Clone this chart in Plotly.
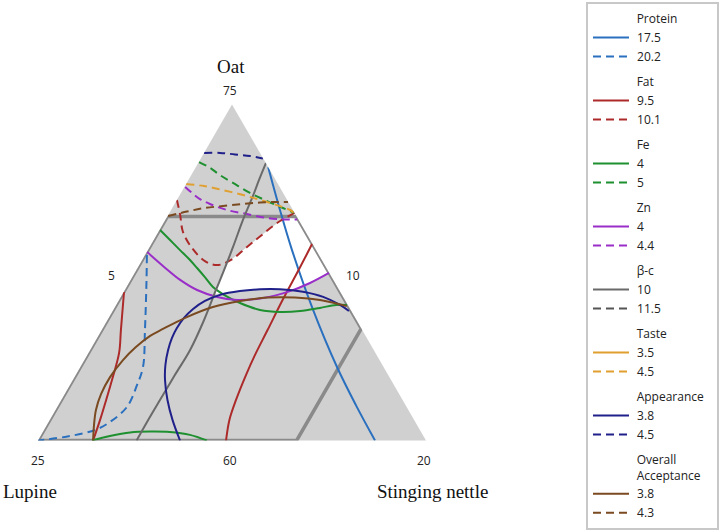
import plotly.graph_objects as go

# Mixture design: Oat + Lupine + Stinging nettle = 90 (%), lower bounds below
TOTAL = 90
OAT_MIN, LUP_MIN, NET_MIN = 60, 10, 5

# Vertex / edge labels shown on the simplex
vertex_labels = ["75", "25", "20"]      # Oat max, Lupine max, Nettle max
edge_labels = ["5", "10", "60"]         # Nettle min (left), Lupine min (right), Oat min (bottom)

# Constraint region (Oat <= 70, Nettle <= 15) as (Oat, Nettle) vertices
constraint_oat = [70, 70, 65, 60, 60, 70]
constraint_net = [5, 10, 15, 15, 5, 5]

# Feasible (white) overlap region, (Oat, Nettle)
feasible_oat = [68.01, 68.06, 68.64, 69.22, 69.80, 70.16, 67.48, 67.03, 66.67, 66.75, 66.75, 66.63, 66.54, 67.48, 68.01]
feasible_net = [8.34, 8.43, 8.76, 9.09, 9.46, 9.84, 12.51, 12.00, 11.41, 10.98, 10.09, 9.19, 8.57, 8.41, 8.34]

# Contour lines: Oat % and Stinging nettle % (Lupine = 90 - Oat - Nettle)
protein_175_oat = [72.2, 70.29, 68.50, 65.83, 63.28, 61.58, 60.0]
protein_175_net = [7.8, 9.21, 10.57, 12.72, 14.92, 16.50, 18.03]
protein_202_oat = [68.28, 67.17, 64.93, 63.28, 62.48, 61.50, 60.83, 60.47, 60.20, 60.0]
protein_202_net = [5.07, 5.61, 6.67, 7.42, 7.59, 7.69, 7.37, 6.97, 6.14, 5.0]

fat_95a_oat = [68.77, 67.61, 66.27, 64.93, 63.82, 62.92, 61.81, 60.92, 60.0]
fat_95a_net = [11.21, 11.27, 11.32, 11.41, 11.48, 11.58, 11.75, 11.94, 12.27]
fat_95b_oat = [66.63, 64.93, 63.91, 62.70, 61.81, 60.92, 60.0]
fat_95b_net = [5.01, 5.74, 6.18, 6.51, 6.73, 6.94, 7.13]
fat_101_oat = [70.74, 70.07, 69.31, 68.59, 68.01, 67.83, 68.06, 68.64, 69.22, 69.80, 70.16]
fat_101_net = [5.0, 5.46, 5.95, 6.66, 7.45, 8.00, 8.43, 8.76, 9.09, 9.46, 9.84]

fe_4a_oat = [69.40, 68.95, 68.50, 68.10, 67.70, 67.28, 66.85, 66.50, 66.14, 65.83, 65.74, 65.78, 65.92, 66.05, 66.05]
fe_4a_net = [5.02, 5.63, 6.24, 6.79, 7.30, 7.82, 8.34, 8.94, 9.74, 10.67, 11.49, 12.24, 12.94, 13.50, 13.92]
fe_4b_oat = [60.0, 60.20, 60.36, 60.40, 60.38, 60.25, 60.0]
fe_4b_net = [7.09, 7.68, 8.38, 9.13, 9.91, 10.75, 11.53]
fe_5_oat = [72.43, 72.17, 71.85, 71.50, 71.05, 70.69, 70.38, 70.16]
fe_5_net = [5.01, 5.57, 6.11, 6.79, 7.67, 8.51, 9.28, 9.82]

zn_4_oat = [68.42, 68.10, 67.75, 67.17, 66.72, 66.41, 66.27, 66.36, 66.67, 67.03, 67.48]
zn_4_net = [5.01, 5.47, 6.00, 6.91, 7.79, 8.72, 9.56, 10.52, 11.41, 12.00, 12.51]
zn_44_oat = [71.32, 71.05, 70.78, 70.56, 70.29, 70.11, 69.93, 69.87, 69.87]
zn_44_net = [5.03, 5.43, 5.87, 6.37, 7.16, 8.02, 8.89, 9.58, 10.08]

bc_10_oat = [72.39, 71.63, 70.92, 69.84, 68.64, 67.48, 66.72, 65.38, 64.04, 62.92, 61.81, 60.83, 60.0]
bc_10_net = [7.62, 7.73, 7.85, 8.00, 8.22, 8.41, 8.52, 8.73, 8.86, 8.83, 8.81, 8.80, 8.81]
bc_115_oat = [None]   # not visible inside the simplex
bc_115_net = [None]

taste_35_oat = [None]  # not visible inside the simplex
taste_35_net = [None]
taste_45_oat = [71.45, 71.36, 71.18, 70.96, 70.74, 70.51, 70.29, 70.13]
taste_45_net = [5.0, 5.74, 6.56, 7.45, 8.21, 8.98, 9.60, 9.87]

app_38_oat = [60.0, 60.92, 61.81, 62.70, 63.37, 64.04, 64.58, 65.02, 65.47, 65.87, 66.23, 66.50, 66.67,
              66.75, 66.75, 66.64, 66.41, 66.05, 65.78]
app_38_net = [10.49, 9.74, 9.10, 8.56, 8.24, 8.01, 7.89, 7.86, 7.91, 8.06, 8.34, 8.79, 9.47,
              10.21, 10.98, 11.92, 12.82, 13.65, 14.13]
app_45_oat = [72.84, 72.84, 72.77, 72.70, 72.59]
app_45_net = [5.0, 5.62, 6.23, 6.85, 7.40]

oa_38_oat = [60.0, 60.69, 61.36, 62.08, 62.83, 63.59, 64.17, 64.67, 64.98, 65.51, 65.96, 66.23, 66.38, 66.38, 66.27, 66.0]
oa_38_net = [7.13, 6.82, 6.56, 6.40, 6.37, 6.49, 6.70, 7.00, 7.34, 8.00, 8.78, 9.70, 10.70, 11.74, 12.77, 13.94]
oa_43_oat = [70.02, 70.22, 70.37, 70.47, 70.56, 70.62, 70.65, 70.65]
oa_43_net = [5.02, 5.65, 6.20, 6.92, 7.65, 8.27, 8.92, 9.34]

BLUE, RED, GREEN, PURPLE = "#2a70bf", "#ad2a2a", "#1f9030", "#9a2ec8"
GREY, GREY_D, ORANGE, NAVY, BROWN = "#6a6a6a", "#555555", "#e0a030", "#20208a", "#7a4a20"
DASH = "8px,5px"

curves = [
    ("Protein", "17.5", [protein_175_oat], [protein_175_net], BLUE, "solid"),
    ("Protein", "20.2", [protein_202_oat], [protein_202_net], BLUE, DASH),
    ("Fat", "9.5", [fat_95a_oat, fat_95b_oat], [fat_95a_net, fat_95b_net], RED, "solid"),
    ("Fat", "10.1", [fat_101_oat], [fat_101_net], RED, DASH),
    ("Fe", "4", [fe_4a_oat, fe_4b_oat], [fe_4a_net, fe_4b_net], GREEN, "solid"),
    ("Fe", "5", [fe_5_oat], [fe_5_net], GREEN, DASH),
    ("Zn", "4", [zn_4_oat], [zn_4_net], PURPLE, "solid"),
    ("Zn", "4.4", [zn_44_oat], [zn_44_net], PURPLE, DASH),
    ("β-c", "10", [bc_10_oat], [bc_10_net], GREY, "solid"),
    ("β-c", "11.5", [bc_115_oat], [bc_115_net], GREY_D, DASH),
    ("Taste", "3.5", [taste_35_oat], [taste_35_net], ORANGE, "solid"),
    ("Taste", "4.5", [taste_45_oat], [taste_45_net], ORANGE, DASH),
    ("Appearance", "3.8", [app_38_oat], [app_38_net], NAVY, "solid"),
    ("Appearance", "4.5", [app_45_oat], [app_45_net], NAVY, DASH),
    ("Overall<br>Acceptance", "3.8", [oa_38_oat], [oa_38_net], BROWN, "solid"),
    ("Overall<br>Acceptance", "4.3", [oa_43_oat], [oa_43_net], BROWN, DASH),
]

def lupine(oat, net):
    return [None if (o is None or n is None) else TOTAL - o - n for o, n in zip(oat, net)]

fig = go.Figure()

# feasible overlap region (white)
fig.add_trace(go.Scatterternary(
    a=feasible_oat, b=lupine(feasible_oat, feasible_net), c=feasible_net,
    mode="lines", fill="toself", fillcolor="white", line=dict(width=0, color="white"),
    showlegend=False, hoverinfo="skip"))

# constraint polygon
fig.add_trace(go.Scatterternary(
    a=constraint_oat, b=lupine(constraint_oat, constraint_net), c=constraint_net,
    mode="lines", line=dict(width=3.5, color="#8a8a8a"),
    showlegend=False, hoverinfo="skip"))

IND = "\u00a0" * 14
seen = set()
for title, level, oats, nets, color, dash in curves:
    for k, (oat, net) in enumerate(zip(oats, nets)):
        kw = {}
        if title not in seen and k == 0:
            ttl = IND + title.replace("<br>", "<br>" + IND)
            if title == "Appearance":
                ttl += "\u00a0"
            kw["legendgrouptitle"] = dict(text=ttl, font=dict(family="Open Sans", size=12, color="#222"))
            seen.add(title)
        fig.add_trace(go.Scatterternary(
            a=oat, b=lupine(oat, net), c=net, mode="lines",
            line=dict(color=color, width=2, dash=dash, shape="spline", smoothing=1.0),
            name="\u00a0" + level, legendgroup=title, showlegend=(k == 0), hoverinfo="skip", **kw))

axis_common = dict(showline=False, showgrid=False, showticklabels=False, ticks="", title=dict(text=""))
fig.update_layout(
    width=724, height=530,
    margin=dict(l=0, r=0, t=0, b=0),
    paper_bgcolor="white",
    ternary=dict(
        sum=TOTAL,
        bgcolor="#d0d0d0",
        domain=dict(x=[38 / 724, 426 / 724], y=[(530 - 440.5) / 530, (530 - 104.5) / 530]),
        aaxis=dict(min=OAT_MIN, **axis_common),
        baxis=dict(min=LUP_MIN, **axis_common),
        caxis=dict(min=NET_MIN, **axis_common),
    ),
    legend=dict(
        x=586 / 724, y=1 - 2 / 530, xanchor="left", yanchor="top",
        bgcolor="white", bordercolor="#c8c8c8", borderwidth=2,
        font=dict(family="Open Sans", size=12, color="#222"),
        traceorder="grouped", tracegroupgap=6, itemwidth=36,
    ),
    showlegend=True,
)

sans = dict(family="Open Sans", size=12, color="#222")
serif = dict(family="Liberation Serif", size=19, color="#111")
ann = [
    ("Oat", 231, 67, serif, "center"),
    (vertex_labels[0], 230, 91, sans, "center"),
    (edge_labels[0], 111, 275, sans, "center"),
    (edge_labels[1], 353, 275, sans, "center"),
    (vertex_labels[1], 38, 460, sans, "center"),
    (edge_labels[2], 230, 460, sans, "center"),
    (vertex_labels[2], 424, 460, sans, "center"),
    ("Lupine", 1, 491, serif, "left"),
    ("Stinging nettle", 432, 491, serif, "center"),
]
for text, px, py, font, xa in ann:
    fig.add_annotation(text=text, x=px / 724, y=1 - py / 530, xref="paper", yref="paper",
                       showarrow=False, font=font, xanchor=xa, yanchor="middle")

fig.write_html("out.html", config={"displayModeBar": False},
               post_script="document.body.style.margin='0px';")
